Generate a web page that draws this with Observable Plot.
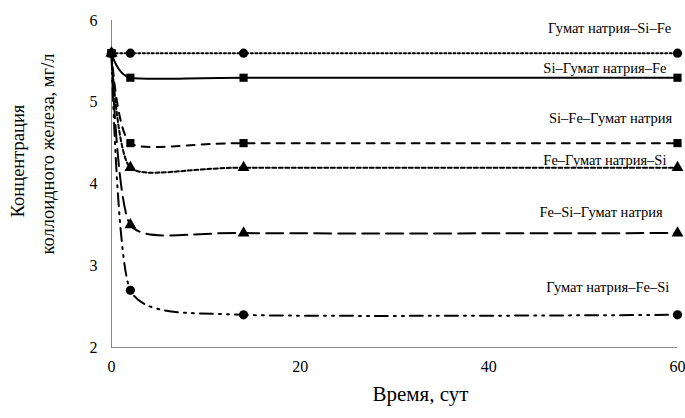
<!DOCTYPE html>
<html>
<head>
<meta charset="utf-8">
<script src="https://cdn.jsdelivr.net/npm/d3@7"></script>
<script src="https://cdn.jsdelivr.net/npm/@observablehq/plot@0.6"></script>
<style>
  html, body { margin: 0; padding: 0; background: #fff; }
  svg { overflow: visible; }
  #chart svg, #chart svg text, #chart svg tspan, #chart svg g {
    font-family: "Liberation Serif", "Tinos", "DejaVu Serif", "Noto Serif", "FreeSerif", "Nimbus Roman", "Times New Roman", Times, serif !important;
  }
</style>
</head>
<body>
<div id="chart"></div>
<script>
const days = [0, 2, 14, 60];
const seriesNames = [
  "Гумат натрия–Si–Fe",
  "Si–Гумат натрия–Fe",
  "Si–Fe–Гумат натрия",
  "Fe–Гумат натрия–Si",
  "Fe–Si–Гумат натрия",
  "Гумат натрия–Fe–Si"
];
const humSiFe = [5.6, 5.6, 5.6, 5.6];
const siHumFe = [5.6, 5.3, 5.3, 5.3];
const siFeHum = [5.6, 4.5, 4.5, 4.5];
const feHumSi = [5.6, 4.2, 4.2, 4.2];
const feSiHum = [5.6, 3.5, 3.4, 3.4];
const humFeSi = [5.6, 2.7, 2.4, 2.4];
const seriesValues = [humSiFe, siHumFe, siFeHum, feHumSi, feSiHum, humFeSi];
const seriesSymbols = ["circle", "square", "square", "triangle", "triangle", "circle"];
const seriesDashes = ["2,2.5", null, "8,7", "4,2.5", "17,7", "13,6,2,6,2,6"];

const xTicks = [0, 20, 40, 60];
const yTicks = [2, 3, 4, 5, 6];
const xTitle = "Время, сут";
const yTitle1 = "Концентрация";
const yTitle2 = "коллоидного железа, мг/л";

// label placement (data coordinates)
const labelX = [52.8, 52.3, 52.9, 52.3, 51.9, 52.6];
const labelY = [5.90, 5.41, 4.80, 4.29, 3.65, 2.73];

const series = seriesNames.map((name, i) => ({
  name,
  symbol: seriesSymbols[i],
  dash: seriesDashes[i],
  rows: days.map((d, j) => ({day: d, value: seriesValues[i][j], series: name}))
}));

const labels = seriesNames.map((name, i) => ({name, x: labelX[i], y: labelY[i]}));

const font = "Liberation Serif, Tinos, DejaVu Serif, Noto Serif, Times New Roman, serif";

const lineMarks = series.map(s => Plot.line(s.rows, {
  x: "day", y: "value", curve: "cardinal", tension: 0.4,
  stroke: "black", strokeWidth: 2,
  strokeDasharray: s.dash || undefined
}));

const order = ["circle", "triangle", "square"];
const dotMarks = [];
for (const sym of order) {
  for (const s of series.filter(s => s.symbol === sym)) {
    dotMarks.push(Plot.dot(s.rows, {
      x: "day", y: "value", symbol: sym, r: sym === "triangle" ? 4.4 : 4.6,
      fill: "black", stroke: "none"
    }));
  }
}

const chart = Plot.plot({
  width: 685,
  height: 418,
  marginLeft: 111,
  marginRight: 8,
  marginTop: 20,
  marginBottom: 71,
  style: "font-family: 'Liberation Serif', 'DejaVu Serif', serif; background: white; color: black;",
  x: {domain: [0, 60], ticks: xTicks, label: null},
  y: {domain: [2, 6], ticks: yTicks, label: null},
  marks: [
    Plot.axisX({ticks: xTicks, tickSize: 0, tickPadding: 13, fontSize: 16, label: null, tickFormat: d => String(d), fontFamily: font}),
    Plot.axisY({ticks: yTicks, tickSize: 0, tickPadding: 14, fontSize: 16, label: null, tickFormat: d => String(d), fontFamily: font}),
    Plot.ruleX([0], {stroke: "#888", strokeWidth: 1}),
    Plot.ruleY([2], {stroke: "#888", strokeWidth: 1}),
    ...lineMarks,
    ...dotMarks,
    Plot.text(labels, {x: "x", y: "y", text: "name", fontSize: 14.5, fill: "black", textAnchor: "middle", fontFamily: font}),
    Plot.text([xTitle], {frameAnchor: "bottom", textAnchor: "middle", dx: 26, dy: 53, fontSize: 21, fill: "black", fontFamily: font}),
    Plot.text([yTitle1], {frameAnchor: "left", textAnchor: "middle", dx: -93, dy: -23, rotate: -90, fontSize: 18.5, fill: "black", fontFamily: font}),
    Plot.text([yTitle2], {frameAnchor: "left", textAnchor: "middle", dx: -63, dy: -30, rotate: -90, fontSize: 18.5, fill: "black", fontFamily: font})
  ]
});
document.getElementById("chart").appendChild(chart);
</script>
</body>
</html>
